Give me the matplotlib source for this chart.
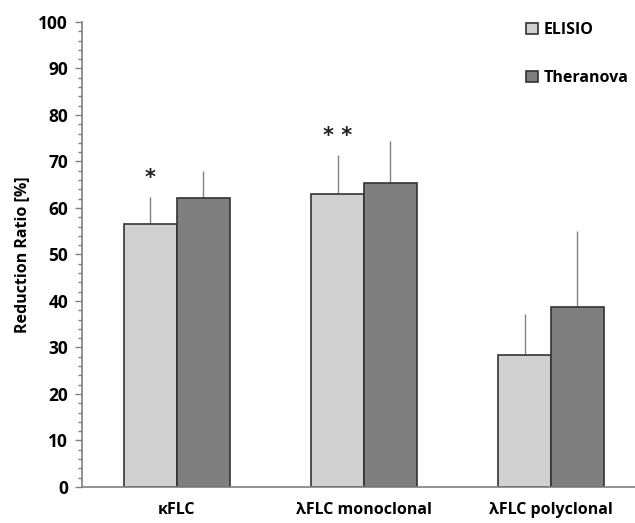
import numpy as np
import matplotlib.pyplot as plt
from matplotlib.ticker import MultipleLocator

categories = ['\u03baFLC', '\u03bbFLC monoclonal', '\u03bbFLC polyclonal']
series = ['ELISIO', 'Theranova']
elisio = [56.5, 62.9, 28.4]
elisio_err = [5.9, 8.5, 8.8]
theranova = [62.2, 65.4, 38.7]
theranova_err = [5.8, 8.9, 16.4]
stars = ['*', '* *', '']

plt.rcParams['font.family'] = ['Open Sans', 'DejaVu Sans']
plt.rcParams['font.weight'] = 'bold'

fig = plt.figure(figsize=(6.35, 5.23), dpi=100)
ax = fig.add_axes([0.129, 0.069, 0.871, 0.889])

x = np.arange(len(categories))
w = 0.283
c_el, c_th = '#d0d0d0', '#7f7f7f'

# error bars first (upper half only), bars drawn over them
ax.errorbar(x - w / 2, elisio, yerr=[np.zeros(3), elisio_err], fmt='none',
            ecolor='#808080', elinewidth=1, capsize=0, zorder=1)
ax.errorbar(x + w / 2, theranova, yerr=[np.zeros(3), theranova_err], fmt='none',
            ecolor='#808080', elinewidth=1, capsize=0, zorder=1)
ax.bar(x - w / 2, elisio, w, color=c_el, edgecolor='#333333', linewidth=1.2,
       label=series[0], zorder=2)
ax.bar(x + w / 2, theranova, w, color=c_th, edgecolor='#333333', linewidth=1.2,
       label=series[1], zorder=2)

star_y = [66.5, 75.5]
for i, s in enumerate(stars):
    if s:
        ax.text(x[i] - w / 2, star_y[i], s, ha='center', va='center',
                fontsize=15, color='#222222', family='DejaVu Sans')

ax.set_xlim(-0.508, 2.449)
ax.set_ylim(0, 100)
ax.yaxis.set_major_locator(MultipleLocator(10))
ax.yaxis.set_minor_locator(MultipleLocator(2))
ax.tick_params(axis='y', which='major', length=5, width=1, color='#808080',
               labelsize=12.5, pad=5)
ax.tick_params(axis='y', which='minor', length=3, width=1, color='#808080')
ax.set_xticks(x)
ax.set_xticklabels(categories, fontsize=11.5, fontweight='bold')
ax.tick_params(axis='x', length=0, pad=11)
for lbl in ax.get_yticklabels():
    lbl.set_fontweight('bold')

for sp in ['top', 'right']:
    ax.spines[sp].set_visible(False)
for sp in ['left', 'bottom']:
    ax.spines[sp].set_color('#808080')
    ax.spines[sp].set_linewidth(1.2)

ax.set_ylabel('Reduction Ratio [%]', fontsize=11.5, fontweight='bold', labelpad=6)

leg = ax.legend(loc='upper right', bbox_to_anchor=(1.015, 1.03), frameon=False,
                handlelength=0.7, handleheight=0.7, handletextpad=0.4,
                labelspacing=2.0, prop={'size': 11.5, 'weight': 'bold'})

fig.savefig('out.png', dpi=100)
